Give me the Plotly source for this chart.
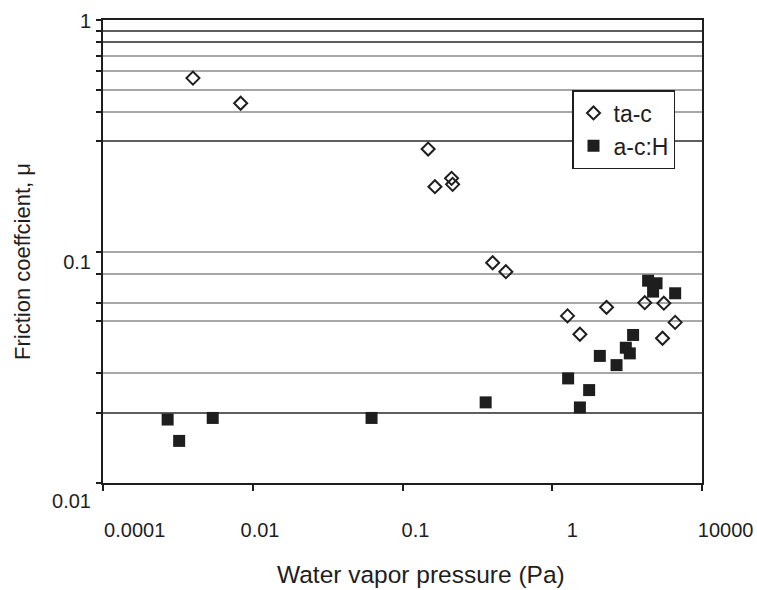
import plotly.graph_objects as go

# ---------------- data ----------------
tac_pressure = [0.00159, 0.00689, 2.20, 2.71, 4.52, 4.67, 16.0, 24.0, 160, 234, 531, 1720, 3090, 4380, 2970]
tac_friction = [0.561, 0.437, 0.277, 0.1905, 0.207, 0.195, 0.0894, 0.0818, 0.0527, 0.0439, 0.0574, 0.0601, 0.0598, 0.0494, 0.0422]

ach_pressure = [0.00073, 0.00104, 0.00292, 0.386, 12.9, 163, 234, 311, 432, 722, 961, 1086, 1202, 1907, 2470, 2223, 4380]
ach_friction = [0.0188, 0.0152, 0.0191, 0.0191, 0.0223, 0.0283, 0.0212, 0.0252, 0.0354, 0.0323, 0.0384, 0.0363, 0.0436, 0.0748, 0.0729, 0.0671, 0.0660]

series_names = ["ta-c", "a-c:H"]

# axis ticks (tick marks) and printed tick labels (as they appear in the figure)
x_tick_vals = [1e-4, 1e-2, 1, 1e2, 1e4]
x_tick_labels = ["0.0001", "0.01", "0.1", "1", "10000"]
x_label_pos = [2.65e-4, 1.25e-2, 1.49, 185, 20650]

y_tick_vals = [1, 0.9, 0.8, 0.7, 0.6, 0.5, 0.4, 0.3, 0.1, 0.08, 0.06, 0.05, 0.03, 0.02, 0.01]
y_dark_grid = [0.9, 0.8, 0.3, 0.02]
y_tick_labels = ["1", "0.1", "0.01"]
y_label_pos = [0.99, 0.0904, 0.00836]

x_title = "Water vapor pressure (Pa)"
y_title = "Friction coeffcient, μ"

# ---------------- layout geometry ----------------
W, H = 757, 590
PL, PR, PT, PB = 103, 702, 20, 483
X_RANGE = [-4, 4]
Y_RANGE = [-2, 0]
xs = (X_RANGE[1] - X_RANGE[0]) / (PR - PL)
ys = (Y_RANGE[1] - Y_RANGE[0]) / (PB - PT)
x2_range = [X_RANGE[0] - PL * xs, X_RANGE[1] + (W - PR) * xs]
y2_range = [Y_RANGE[0] - (H - PB) * ys, Y_RANGE[1] + PT * ys]

FONT = "Liberation Sans, Arial, Helvetica, sans-serif"
INK = "#1e1e1e"

fig = go.Figure()
# helper trace for the label axes (drawn first, underneath)
fig.add_trace(go.Scatter(x=[], y=[], xaxis="x2", yaxis="y2", showlegend=False, hoverinfo="skip"))
fig.add_trace(go.Scatter(
    x=tac_pressure, y=tac_friction, mode="markers", name=series_names[0],
    marker=dict(symbol="diamond-open", size=10, color=INK, line=dict(width=2, color=INK)),
    xaxis="x", yaxis="y"))
fig.add_trace(go.Scatter(
    x=ach_pressure, y=ach_friction, mode="markers", name=series_names[1],
    marker=dict(symbol="square", size=12, color=INK, line=dict(width=0)),
    xaxis="x", yaxis="y"))
fig.add_trace(go.Scatter(x=[], y=[], xaxis="x", yaxis="y3", showlegend=False, hoverinfo="skip"))

fig.update_layout(
    width=W, height=H,
    margin=dict(l=0, r=0, t=0, b=0),
    paper_bgcolor="white", plot_bgcolor="rgba(0,0,0,0)",
    font=dict(family=FONT, color=INK, size=20),
    showlegend=True,
    legend=dict(
        x=572 / W, y=1 - 90 / H, xanchor="left", yanchor="top",
        bgcolor="white", bordercolor=INK, borderwidth=1.5,
        font=dict(size=23, family=FONT, color=INK),
        traceorder="normal", tracegroupgap=0,
    ),
    xaxis=dict(
        domain=[PL / W, PR / W], anchor="y", type="log", range=X_RANGE,
        tickmode="array", tickvals=x_tick_vals, showticklabels=False,
        ticks="outside", ticklen=6, tickwidth=1.5, tickcolor=INK,
        showgrid=False, zeroline=False,
        showline=True, linecolor=INK, linewidth=2, mirror=True, automargin=False,
    ),
    yaxis=dict(
        domain=[1 - PB / H, 1 - PT / H], anchor="x", type="log", range=Y_RANGE,
        tickmode="array", tickvals=y_tick_vals, showticklabels=False,
        ticks="outside", ticklen=5, tickwidth=1.5, tickcolor=INK,
        showgrid=True, gridcolor="#a8a8a8", gridwidth=1.5, zeroline=False,
        showline=True, linecolor=INK, linewidth=2, mirror=True, automargin=False,
    ),
    yaxis3=dict(
        overlaying="y", anchor="x", side="left", type="log", range=Y_RANGE,
        tickmode="array", tickvals=y_dark_grid, showticklabels=False, ticks="",
        showgrid=True, gridcolor="#5e5e5e", gridwidth=1.5, zeroline=False,
        showline=False, automargin=False,
    ),
    xaxis2=dict(
        domain=[0, 1], anchor="free", position=1 - PB / H, type="log", range=x2_range,
        tickmode="array", tickvals=x_label_pos, ticktext=x_tick_labels,
        ticks="", showline=False, showgrid=False, zeroline=False,
        tickfont=dict(size=20, family=FONT, color=INK), ticklabelstandoff=33,
        automargin=False,
    ),
    yaxis2=dict(
        domain=[0, 1], anchor="free", position=PL / W, side="left", type="log", range=y2_range,
        tickmode="array", tickvals=y_label_pos, ticktext=y_tick_labels,
        ticks="", showline=False, showgrid=False, zeroline=False,
        tickfont=dict(size=20, family=FONT, color=INK), ticklabelstandoff=12,
        automargin=False,
    ),
    annotations=[
        dict(text=x_title, x=421 / W, y=1 - 574 / H, xref="paper", yref="paper",
             xanchor="center", yanchor="middle", showarrow=False,
             font=dict(size=24.5, family=FONT, color=INK)),
        dict(text=y_title, x=22 / W, y=1 - 262 / H, xref="paper", yref="paper",
             xanchor="center", yanchor="middle", showarrow=False, textangle=-90,
             font=dict(size=22, family=FONT, color=INK)),
    ],
)

fig.write_html("out.html")
